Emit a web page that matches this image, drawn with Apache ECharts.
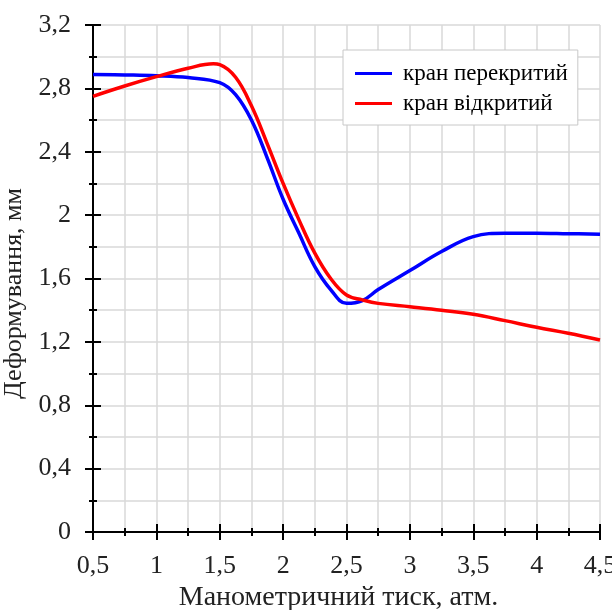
<!DOCTYPE html>
<html>
<head>
<meta charset="utf-8">
<script src="https://cdn.jsdelivr.net/npm/echarts@6/dist/echarts.min.js"></script>
<style>
  html, body { margin: 0; padding: 0; background: #fff; }
  #chart { width: 612px; height: 610px; }
</style>
</head>
<body>
<div id="chart"></div>
<script>
// тиск, атм.
const pressureBlue = [0.5, 0.75, 1.0, 1.25, 1.5, 1.625, 1.75, 1.875, 2.0, 2.125, 2.25, 2.375, 2.5, 2.625, 2.75, 3.0, 3.25, 3.5, 3.75, 4.0, 4.25, 4.5];
const blueValues   = [2.888, 2.885, 2.88, 2.868, 2.836, 2.76, 2.6, 2.36, 2.1, 1.885, 1.675, 1.53, 1.443, 1.46, 1.53, 1.65, 1.77, 1.864, 1.886, 1.886, 1.883, 1.88];

const pressureRed = [0.5, 0.75, 1.0, 1.25, 1.45, 1.5, 1.625, 1.75, 1.875, 2.0, 2.125, 2.25, 2.375, 2.5, 2.625, 2.75, 3.0, 3.25, 3.5, 3.75, 4.0, 4.25, 4.5];
const redValues   = [2.75, 2.815, 2.874, 2.927, 2.955, 2.95, 2.87, 2.69, 2.45, 2.2, 1.97, 1.76, 1.6, 1.496, 1.465, 1.443, 1.422, 1.4, 1.374, 1.334, 1.292, 1.254, 1.212];

const seriesNames = ["кран перекритий", "кран відкритий"];

const font = "'Liberation Serif', 'Times New Roman', serif";
const comma = v => String(v).replace(".", ",");

function pairs(xs, ys) {
  return xs.map((x, i) => [x, ys[i]]);
}

function xAxisCfg(inside, withLabels) {
  return {
    type: "value", position: "bottom", offset: 0, min: 0.5, max: 4.5, interval: 0.5,
    name: withLabels ? "Манометричний тиск, атм." : "",
    nameLocation: "middle", nameGap: 47,
    nameTextStyle: { fontFamily: font, fontSize: 28, color: "#222", padding: [0, 16, 0, 0] },
    axisLine: { show: true, onZero: false, lineStyle: { color: "#000", width: 2 } },
    axisTick: { show: true, inside: inside, length: 8, lineStyle: { color: "#000", width: 2 } },
    minorTick: { show: true, splitNumber: 2, length: 4, lineStyle: { color: "#000", width: 2 } },
    axisLabel: { show: withLabels, margin: 21, fontFamily: font, fontSize: 26, color: "#222", formatter: comma },
    splitLine: { show: withLabels, lineStyle: { color: "#d9d9d9", width: 1.5 } },
    minorSplitLine: { show: withLabels, lineStyle: { color: "#d9d9d9", width: 1.5 } }
  };
}

function yAxisCfg(inside, withLabels) {
  return {
    type: "value", position: "left", offset: 0, min: 0, max: 3.2, interval: 0.4,
    name: withLabels ? "Деформування, мм" : "",
    nameLocation: "middle", nameGap: 60,
    nameTextStyle: { fontFamily: font, fontSize: 26, color: "#222", padding: [0, 30, 0, 0] },
    axisLine: { show: true, onZero: false, lineStyle: { color: "#000", width: 2 } },
    axisTick: { show: true, inside: inside, length: 8, lineStyle: { color: "#000", width: 2 } },
    minorTick: { show: true, splitNumber: 2, length: 4, lineStyle: { color: "#000", width: 2 } },
    axisLabel: {
      show: withLabels, margin: 22, fontFamily: font, fontSize: 26, color: "#222",
      formatter: v => comma(Math.round(v * 10) / 10)
    },
    splitLine: { show: withLabels, lineStyle: { color: "#d9d9d9", width: 1.5 } },
    minorSplitLine: { show: withLabels, lineStyle: { color: "#d9d9d9", width: 1.5 } }
  };
}

const chart = echarts.init(document.getElementById("chart"));
chart.setOption({
  animation: false,
  backgroundColor: "#fff",
  textStyle: { fontFamily: font },
  grid: { left: 93, right: 12, top: 25, bottom: 78, containLabel: false, outerBoundsMode: "none" },
  legend: {
    orient: "vertical", left: 343, top: 50,
    padding: [12, 10, 10, 12], itemGap: 7,
    backgroundColor: "#fff", borderColor: "#c8c8c8", borderWidth: 1,
    itemWidth: 37, itemHeight: 3, icon: "rect",
    textStyle: { fontFamily: font, fontSize: 23, color: "#000", padding: [0, 0, 0, 6] },
    data: seriesNames
  },
  xAxis: [xAxisCfg(false, true), xAxisCfg(true, false)],
  yAxis: [yAxisCfg(false, true), yAxisCfg(true, false)],
  series: [
    {
      name: seriesNames[0], type: "line", smooth: 0.4,
      showSymbol: false, symbol: "none",
      lineStyle: { color: "#0000ff", width: 3.5 }, itemStyle: { color: "#0000ff" },
      data: pairs(pressureBlue, blueValues), z: 3
    },
    {
      name: seriesNames[1], type: "line", smooth: 0.4,
      showSymbol: false, symbol: "none",
      lineStyle: { color: "#ff0000", width: 3.5 }, itemStyle: { color: "#ff0000" },
      data: pairs(pressureRed, redValues), z: 4
    }
  ]
});
</script>
</body>
</html>
